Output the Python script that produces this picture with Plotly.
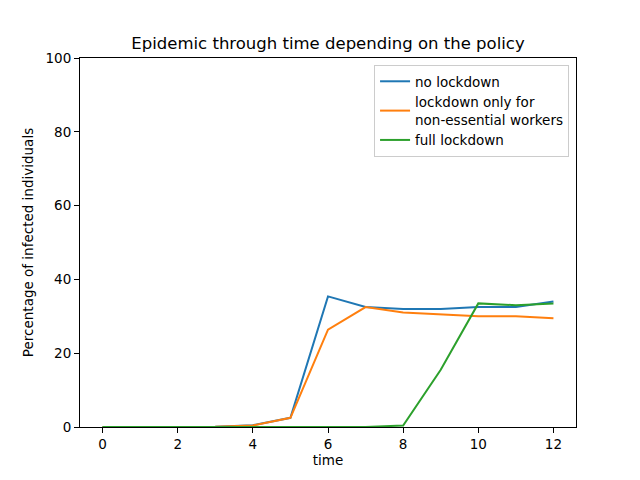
import plotly.graph_objects as go

time = list(range(13))
no_lockdown = [0, 0, 0, 0.1, 0.5, 2.5, 35.4, 32.5, 32, 32, 32.5, 32.5, 34]
partial_lockdown = [0, 0, 0, 0.1, 0.4, 2.5, 26.4, 32.5, 31, 30.5, 30, 30, 29.5]
full_lockdown = [0, 0, 0, 0, 0, 0, 0, 0, 0.4, 15.5, 33.5, 33, 33.5]

series = [
    ("no lockdown", no_lockdown, "#1f77b4"),
    ("lockdown only for<br>non-essential workers", partial_lockdown, "#ff7f0e"),
    ("full lockdown", full_lockdown, "#2ca02c"),
]

fig = go.Figure()
for name, vals, color in series:
    fig.add_trace(go.Scatter(x=time, y=vals, name=name, mode="lines",
                             line=dict(color=color, width=2)))

axis_style = dict(showline=True, linecolor="black", linewidth=1, mirror=True,
                  ticks="outside", ticklen=5, tickcolor="black", showgrid=False,
                  zeroline=False, tickfont=dict(size=13.5, color="black"))

# page body adds ~8px offset, so margins are shifted to compensate
fig.update_layout(
    width=640, height=480,
    margin=dict(l=72, r=72, t=50, b=61),
    paper_bgcolor="white", plot_bgcolor="white",
    font=dict(family="DejaVu Sans", color="black"),
    title=dict(text="Epidemic through time depending on the policy",
               x=0.5, xanchor="center", y=0.927, yanchor="middle",
               font=dict(size=16.5)),
    xaxis=dict(range=[-0.6, 12.6], tickvals=[0, 2, 4, 6, 8, 10, 12],
               title=dict(text="time", font=dict(size=13.5), standoff=4), **axis_style),
    yaxis=dict(range=[0, 100], tickvals=[0, 20, 40, 60, 80, 100],
               title=dict(text="Percentage of infected individuals", font=dict(size=13.5), standoff=8),
               **axis_style),
    legend=dict(x=0.986, y=0.981, xanchor="right", yanchor="top",
                bgcolor="rgba(255,255,255,0.8)", bordercolor="#cccccc", borderwidth=1,
                font=dict(size=13.5), tracegroupgap=0),
)

fig.write_html("out.html")
